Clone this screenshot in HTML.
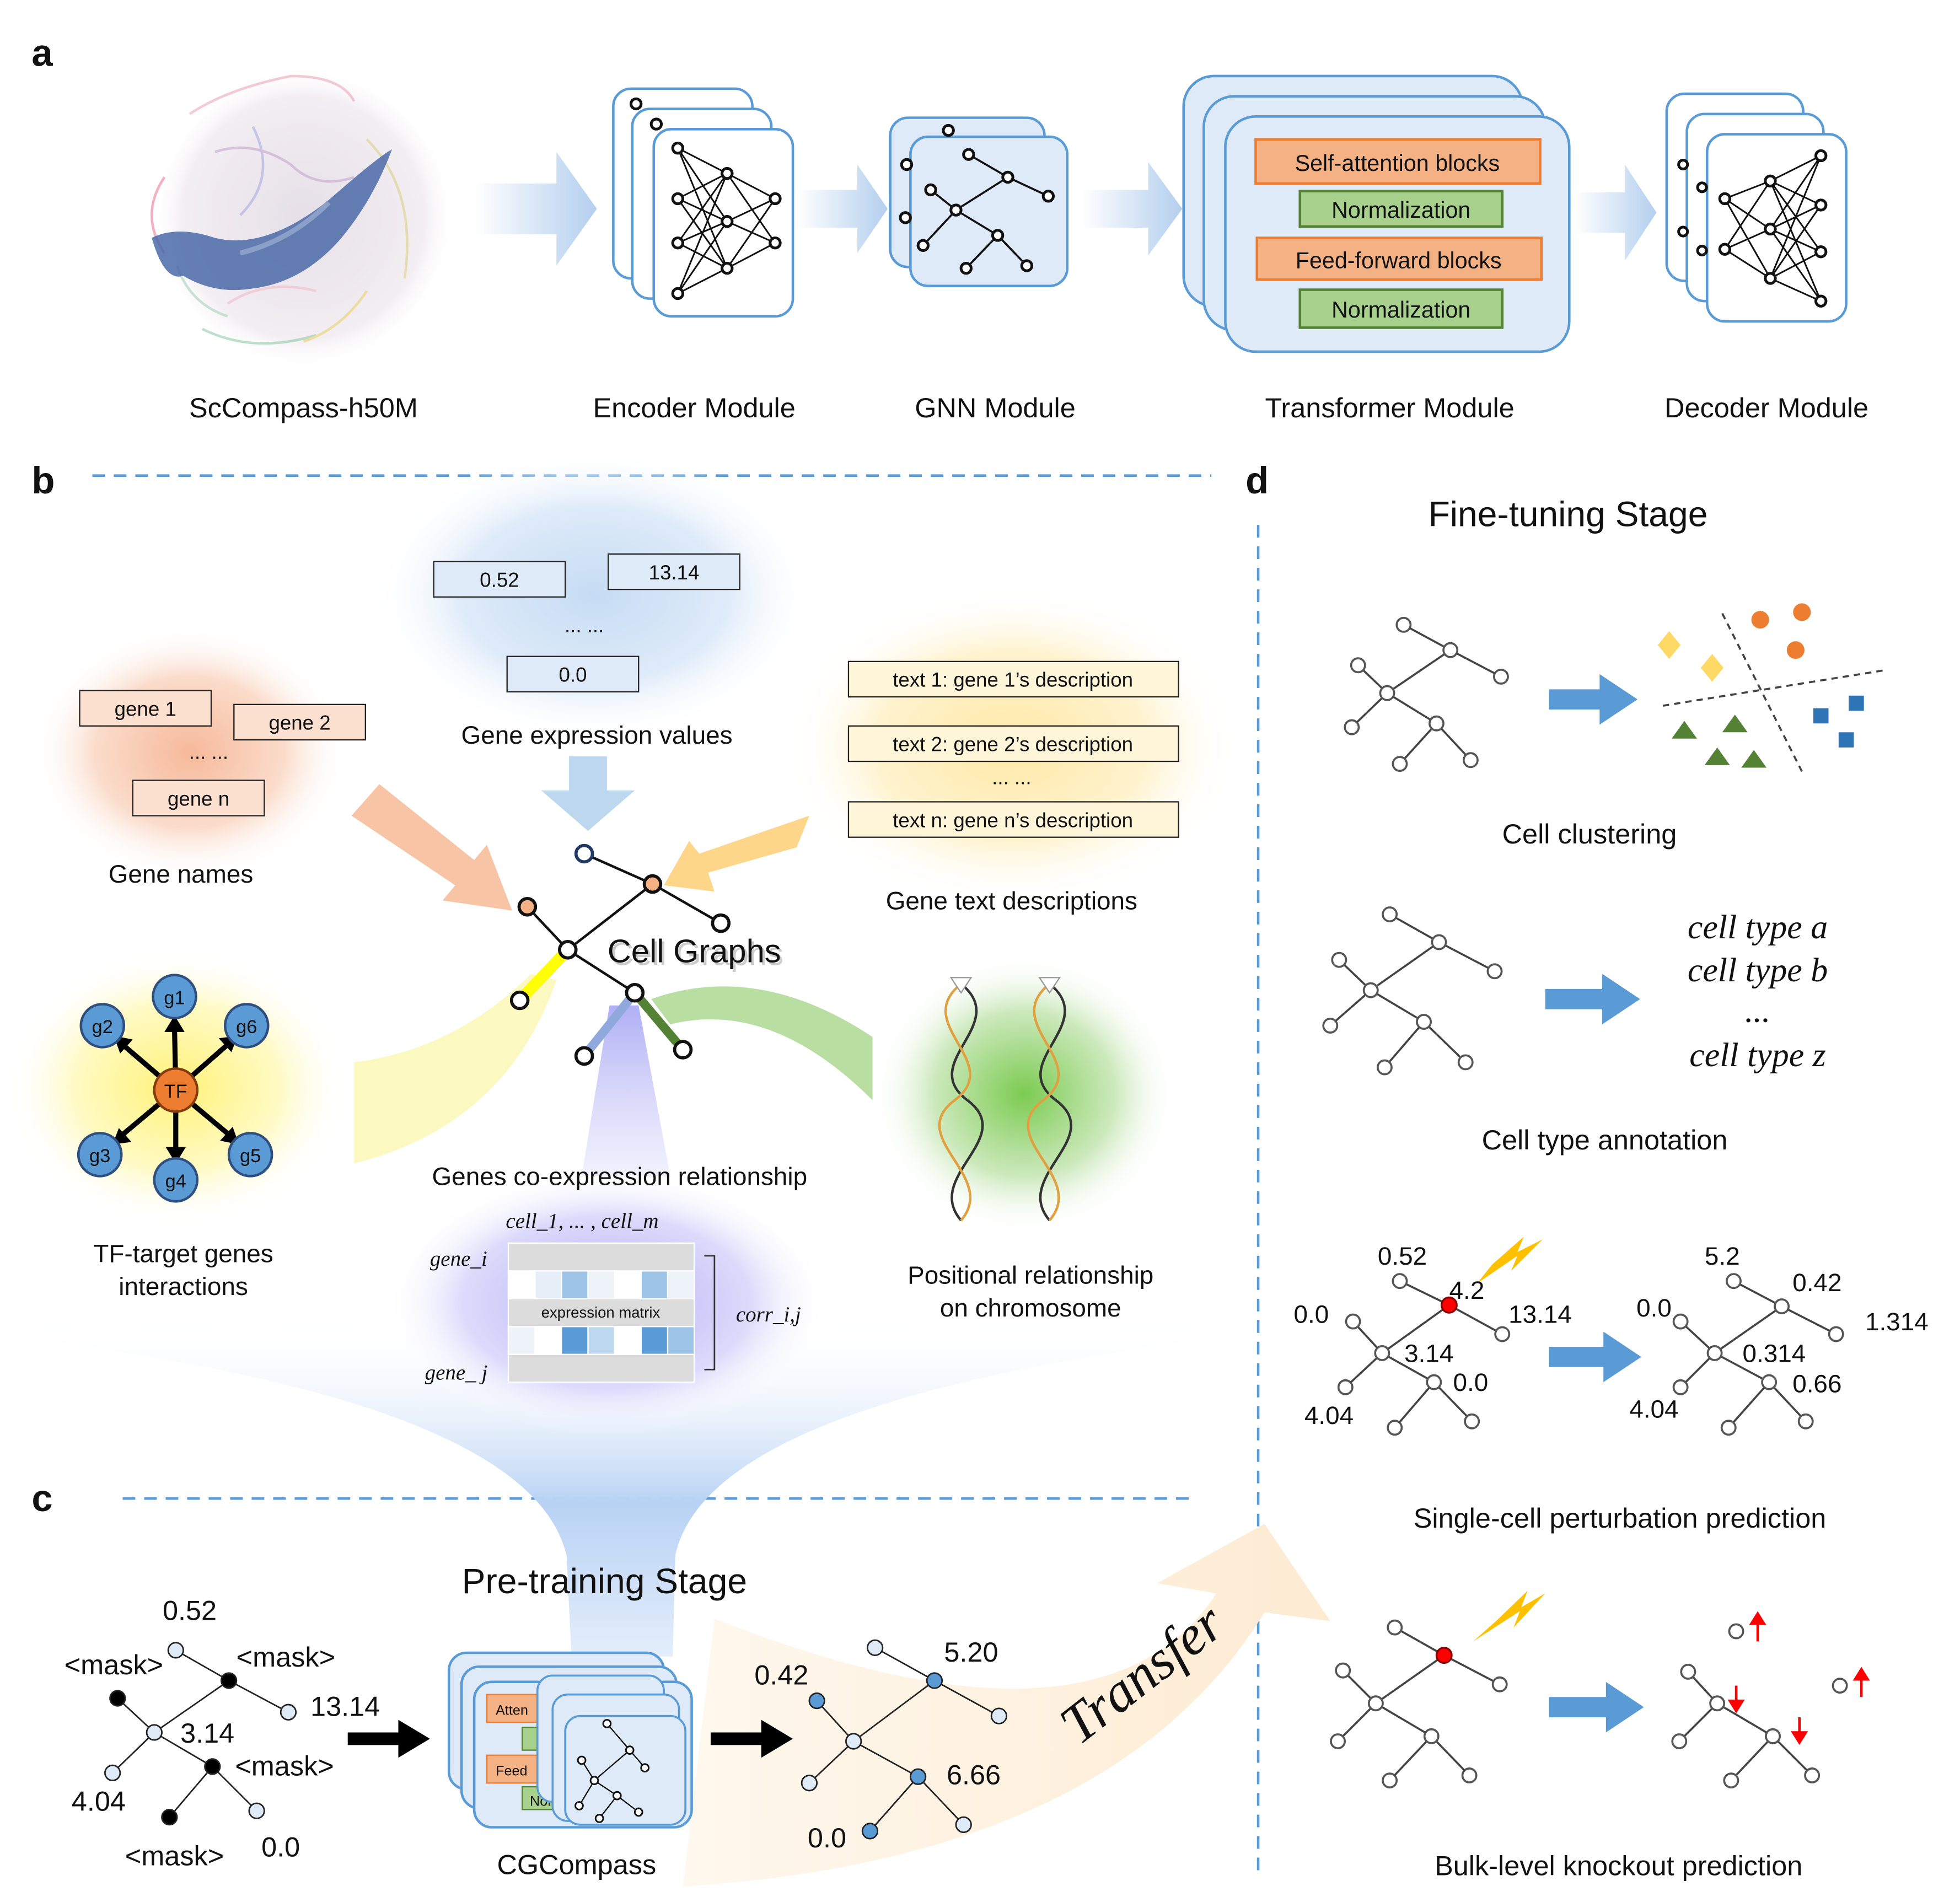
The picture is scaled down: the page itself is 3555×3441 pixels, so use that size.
<!DOCTYPE html>
<html><head><meta charset="utf-8"><style>
html,body{margin:0;padding:0;background:#fff}
svg{display:block}
text{font-family:"Liberation Sans","DejaVu Sans",sans-serif;fill:#111}
text.it{font-family:"Liberation Serif","DejaVu Serif",serif;font-style:italic}
.lab{font-size:22px;text-anchor:middle}
.box{font-size:16px;text-anchor:middle}
.n{fill:#fff;stroke:#555;stroke-width:1.6}
.e{stroke:#444;stroke-width:1.6;fill:none}
.k{stroke:#111;stroke-width:1.3;fill:none}
.kn{fill:#fff;stroke:#111;stroke-width:2.2}
</style></head><body>
<svg width="3555" height="3441" viewBox="0 0 1550 1500" xmlns="http://www.w3.org/2000/svg">
<defs>
<linearGradient id="ag" x1="0" x2="1" y1="0" y2="0"><stop offset="0" stop-color="#fff"/><stop offset="1" stop-color="#b4cfee"/></linearGradient>
<radialGradient id="rb"><stop offset="0" stop-color="#c6dcf4"/><stop offset="0.6" stop-color="#deebf9"/><stop offset="1" stop-color="#fff" stop-opacity="0"/></radialGradient>
<radialGradient id="ro"><stop offset="0" stop-color="#f6b99a"/><stop offset="0.6" stop-color="#fbdccb"/><stop offset="1" stop-color="#fff" stop-opacity="0"/></radialGradient>
<radialGradient id="ry"><stop offset="0" stop-color="#ffe9a6"/><stop offset="0.6" stop-color="#fff3cf"/><stop offset="1" stop-color="#fff" stop-opacity="0"/></radialGradient>
<radialGradient id="rty"><stop offset="0" stop-color="#fff27a"/><stop offset="0.6" stop-color="#fffac4"/><stop offset="1" stop-color="#fff" stop-opacity="0"/></radialGradient>
<radialGradient id="rg"><stop offset="0" stop-color="#7ccb52"/><stop offset="0.6" stop-color="#cde9bd"/><stop offset="1" stop-color="#fff" stop-opacity="0"/></radialGradient>
<radialGradient id="rp"><stop offset="0" stop-color="#b6b2f5"/><stop offset="0.65" stop-color="#dcdafb"/><stop offset="1" stop-color="#fff" stop-opacity="0"/></radialGradient>
<radialGradient id="rw"><stop offset="0" stop-color="#e6dfe8"/><stop offset="0.8" stop-color="#f3eef2"/><stop offset="1" stop-color="#fff" stop-opacity="0"/></radialGradient>
<linearGradient id="fg" x1="0" x2="0" y1="0" y2="1"><stop offset="0" stop-color="#fff" stop-opacity="0"/><stop offset="0.55" stop-color="#b8d2f4"/><stop offset="1" stop-color="#e4eefb"/></linearGradient>
<linearGradient id="tg" x1="0" x2="1" y1="0" y2="0"><stop offset="0" stop-color="#fff8ee"/><stop offset="1" stop-color="#fdebd2"/></linearGradient>
<linearGradient id="pg" x1="0" x2="0" y1="0" y2="1"><stop offset="0" stop-color="#8c8cf0"/><stop offset="1" stop-color="#d8d6fb" stop-opacity="0.5"/></linearGradient>
</defs>

<!-- ========== a ========== -->
<text x="25" y="52" style="font-size:30px;font-weight:bold">a</text>
<circle cx="240" cy="172" r="120" fill="url(#rw)"/>
<g opacity="0.55" fill="none" stroke-width="2">
<path d="M150 90 q30 -20 80 -30 q40 0 50 20" stroke="#e8a0b0"/>
<path d="M130 140 q-20 30 0 60" stroke="#e87090"/>
<path d="M290 110 q40 40 30 110" stroke="#d8d080"/>
<path d="M160 260 q40 20 90 5" stroke="#8ac8a0"/>
<path d="M200 100 q20 40 -10 70" stroke="#a0a8e0"/>
<path d="M290 230 q-20 30 -50 40" stroke="#e8d060"/>
<path d="M140 210 q10 30 40 40" stroke="#a0d0b0"/>
<path d="M170 120 q30 -10 60 10 q20 20 50 10" stroke="#c0a0c8"/>
<path d="M180 240 q30 -20 70 -10" stroke="#f0b8c8"/>
</g>
<path d="M120 188 q20 -10 50 0 q40 10 90 -30 q40 -35 50 -40 q-15 40 -40 70 q-30 35 -70 40 q-30 5 -55 -10 q-15 5 -25 -30z" fill="#4a6aa8" opacity="0.85"/>
<path d="M190 200 q40 -10 70 -40" stroke="#8aa0c8" stroke-width="4" fill="none"/>

<path d="M375 145 H440 V120 L472 165 L440 210 V185 H375Z" fill="url(#ag)"/>
<path d="M630 150 H678 V130 L702 165 L678 200 V180 H630Z" fill="url(#ag)"/>
<path d="M855 150 H908 V128 L935 165 L908 202 V180 H855Z" fill="url(#ag)"/>
<path d="M1245 152 H1285 V130 L1310 168 L1285 206 V184 H1245Z" fill="url(#ag)"/>

<!-- encoder -->
<g fill="#fff" stroke="#5b9bd5" stroke-width="2">
<rect x="485" y="70" width="110" height="150" rx="14"/>
<rect x="500" y="86" width="110" height="150" rx="14"/>
<rect x="517" y="102" width="110" height="148" rx="14"/>
</g>
<circle cx="503" cy="82" r="4" class="kn"/><circle cx="519" cy="98" r="4" class="kn"/>
<g class="k">
<path d="M536 117 L575 137 M536 117 L575 175 M536 117 L575 212 M536 157 L575 137 M536 157 L575 175 M536 157 L575 212 M536 192 L575 137 M536 192 L575 175 M536 192 L575 212 M536 232 L575 137 M536 232 L575 175 M536 232 L575 212 M575 137 L613 157 M575 137 L613 192 M575 175 L613 157 M575 175 L613 192 M575 212 L613 157 M575 212 L613 192"/>
</g>
<g class="kn"><circle cx="536" cy="117" r="4"/><circle cx="536" cy="157" r="4"/><circle cx="536" cy="192" r="4"/><circle cx="536" cy="232" r="4"/><circle cx="575" cy="137" r="4"/><circle cx="575" cy="175" r="4"/><circle cx="575" cy="212" r="4"/><circle cx="613" cy="157" r="4"/><circle cx="613" cy="192" r="4"/></g>

<!-- GNN -->
<g fill="#deeaf7" stroke="#5b9bd5" stroke-width="2">
<rect x="704" y="93" width="122" height="118" rx="14"/>
<rect x="720" y="108" width="124" height="118" rx="14"/>
</g>
<circle cx="750" cy="103" r="4" class="kn"/><circle cx="717" cy="130" r="4" class="kn"/><circle cx="716" cy="172" r="4" class="kn"/>
<path class="k" d="M766 122 L797 140 L829 155 M797 140 L756 166 L736 150 M756 166 L730 194 M756 166 L789 186 L764 212 M789 186 L812 210" style="stroke-width:1.6"/>
<g class="kn"><circle cx="766" cy="122" r="4"/><circle cx="797" cy="140" r="4"/><circle cx="829" cy="155" r="4"/><circle cx="736" cy="150" r="4"/><circle cx="756" cy="166" r="4"/><circle cx="730" cy="194" r="4"/><circle cx="789" cy="186" r="4"/><circle cx="764" cy="212" r="4"/><circle cx="812" cy="210" r="4"/></g>

<!-- Transformer -->
<g fill="#deeaf7" stroke="#5b9bd5" stroke-width="2">
<rect x="936" y="60" width="268" height="182" rx="24"/>
<rect x="952" y="76" width="270" height="185" rx="24"/>
<rect x="969" y="92" width="272" height="186" rx="24"/>
</g>
<rect x="993" y="110" width="225" height="35" fill="#f4b183" stroke="#ed7d31" stroke-width="2"/>
<text x="1105" y="135" style="font-size:18px;text-anchor:middle">Self-attention blocks</text>
<rect x="1028" y="151" width="160" height="28" fill="#a9d18e" stroke="#548235" stroke-width="2"/>
<text x="1108" y="172" style="font-size:18px;text-anchor:middle">Normalization</text>
<rect x="994" y="188" width="225" height="33" fill="#f4b183" stroke="#ed7d31" stroke-width="2"/>
<text x="1106" y="212" style="font-size:18px;text-anchor:middle">Feed-forward blocks</text>
<rect x="1028" y="229" width="160" height="30" fill="#a9d18e" stroke="#548235" stroke-width="2"/>
<text x="1108" y="251" style="font-size:18px;text-anchor:middle">Normalization</text>

<!-- Decoder -->
<g fill="#fff" stroke="#5b9bd5" stroke-width="2">
<rect x="1318" y="74" width="108" height="148" rx="14"/>
<rect x="1334" y="90" width="108" height="148" rx="14"/>
<rect x="1350" y="106" width="110" height="148" rx="14"/>
</g>
<circle cx="1331" cy="130" r="3.5" class="kn"/><circle cx="1331" cy="183" r="3.5" class="kn"/><circle cx="1346" cy="148" r="3.5" class="kn"/><circle cx="1346" cy="198" r="3.5" class="kn"/>
<g class="k">
<path d="M1364 157 L1400 143 M1364 157 L1400 181 M1364 157 L1400 220 M1364 197 L1400 143 M1364 197 L1400 181 M1364 197 L1400 220 M1400 143 L1440 123 M1400 143 L1440 162 M1400 143 L1440 199 M1400 143 L1440 238 M1400 181 L1440 123 M1400 181 L1440 162 M1400 181 L1440 199 M1400 181 L1440 238 M1400 220 L1440 123 M1400 220 L1440 162 M1400 220 L1440 199 M1400 220 L1440 238"/>
</g>
<g class="kn"><circle cx="1364" cy="157" r="4"/><circle cx="1364" cy="197" r="4"/><circle cx="1400" cy="143" r="4"/><circle cx="1400" cy="181" r="4"/><circle cx="1400" cy="220" r="4"/><circle cx="1440" cy="123" r="4"/><circle cx="1440" cy="162" r="4"/><circle cx="1440" cy="199" r="4"/><circle cx="1440" cy="238" r="4"/></g>

<text class="lab" x="240" y="330">ScCompass-h50M</text>
<text class="lab" x="549" y="330">Encoder Module</text>
<text class="lab" x="787" y="330">GNN Module</text>
<text class="lab" x="1099" y="330">Transformer Module</text>
<text class="lab" x="1397" y="330">Decoder Module</text>

<!-- dividers -->
<g stroke="#5b9bd5" stroke-width="2" stroke-dasharray="10 7" fill="none">
<path d="M73 376 H958"/><path d="M97 1185 H940"/><path d="M995 415 V1480"/>
</g>
<text x="25" y="390" style="font-size:30px;font-weight:bold">b</text>
<text x="985" y="390" style="font-size:30px;font-weight:bold">d</text>
<text x="25" y="1195" style="font-size:30px;font-weight:bold">c</text>

<!-- ========== b ========== -->
<path d="M30 1060 Q420 1110 448 1230 L452 1310 L532 1310 L534 1230 Q560 1110 950 1060 L950 1040 L30 1040Z" fill="url(#fg)"/>
<ellipse cx="470" cy="470" rx="175" ry="115" fill="url(#rb)"/>
<ellipse cx="150" cy="595" rx="125" ry="100" fill="url(#ro)"/>
<ellipse cx="800" cy="590" rx="180" ry="125" fill="url(#ry)"/>
<ellipse cx="140" cy="860" rx="135" ry="110" fill="url(#rty)"/>
<ellipse cx="810" cy="865" rx="120" ry="110" fill="url(#rg)"/>
<ellipse cx="480" cy="1030" rx="175" ry="105" fill="url(#rp)"/>

<g fill="#deeaf7" stroke="#222" stroke-width="1">
<rect x="343" y="444" width="104" height="28"/><rect x="481" y="438" width="104" height="28"/><rect x="401" y="519" width="104" height="28"/>
</g>
<text class="box" x="395" y="464">0.52</text><text class="box" x="533" y="458">13.14</text>
<text class="box" x="462" y="500">... ...</text><text class="box" x="453" y="539">0.0</text>
<text class="lab" x="472" y="588" style="font-size:20px">Gene expression values</text>
<path d="M450 598 H480 V625 H502 L465 657 L428 625 H450Z" fill="#bdd7ee"/>

<g fill="#fbe0d0" stroke="#222" stroke-width="1">
<rect x="63" y="546" width="104" height="28"/><rect x="185" y="557" width="104" height="28"/><rect x="105" y="617" width="104" height="28"/>
</g>
<text class="box" x="115" y="566">gene 1</text><text class="box" x="237" y="577">gene 2</text>
<text class="box" x="165" y="600">... ...</text><text class="box" x="157" y="637">gene n</text>
<text class="lab" x="143" y="698" style="font-size:20px">Gene names</text>

<g fill="#fff6da" stroke="#222" stroke-width="1">
<rect x="671" y="523" width="261" height="28"/><rect x="671" y="574" width="261" height="28"/><rect x="671" y="634" width="261" height="28"/>
</g>
<text class="box" x="801" y="543">text 1: gene 1’s description</text>
<text class="box" x="801" y="594">text 2: gene 2’s description</text>
<text class="box" x="800" y="620">... ...</text>
<text class="box" x="801" y="654">text n: gene n’s description</text>
<text class="lab" x="800" y="719" style="font-size:20px">Gene text descriptions</text>

<path d="M278 645 L300 620 L375 680 L385 668 L405 720 L350 712 L360 700Z" fill="#f8c4a6"/>
<path d="M640 645 L630 670 L560 690 L565 705 L525 700 L545 665 L553 675Z" fill="#fdd68a"/>

<!-- flows -->
<path d="M280 840 Q360 830 420 770 L440 775 Q400 890 280 920Z" fill="#fbf7b0" opacity="0.8"/>
<path d="M482 795 L505 795 L530 930 L460 930Z" fill="url(#pg)" opacity="0.7"/>
<path d="M515 790 Q600 760 690 820 L690 870 Q610 790 530 810Z" fill="#a8d68a" opacity="0.8"/>

<!-- cell graph -->
<g stroke="#111" stroke-width="2" fill="none">
<path d="M462 675 L516 699 L570 730 M516 699 L449 751 L417 717 M449 751 L502 785"/>
</g>
<path d="M449 751 L411 791" stroke="#ffff00" stroke-width="9"/>
<path d="M502 785 L462 835" stroke="#8fa9dc" stroke-width="7"/>
<path d="M502 785 L540 830" stroke="#548235" stroke-width="7"/>
<g stroke="#111" stroke-width="2.5">
<circle cx="462" cy="675" r="6.5" fill="#fff" stroke="#1f3864"/>
<circle cx="516" cy="699" r="6.5" fill="#f4b183"/>
<circle cx="570" cy="730" r="6.5" fill="#fff"/>
<circle cx="417" cy="717" r="6.5" fill="#f4b183"/>
<circle cx="449" cy="751" r="6.5" fill="#fff"/>
<circle cx="411" cy="791" r="6.5" fill="#fff"/>
<circle cx="502" cy="785" r="6.5" fill="#fff"/>
<circle cx="462" cy="835" r="6.5" fill="#fff"/>
<circle cx="540" cy="830" r="6.5" fill="#fff"/>
</g>
<text x="551" y="763" style="font-size:26px;text-anchor:middle;fill:#ccc">Cell Graphs</text>
<text x="549" y="761" style="font-size:26px;text-anchor:middle">Cell Graphs</text>

<!-- TF -->
<g stroke="#000" stroke-width="4">
<path d="M139 862 L138 812 M139 862 L180 826 M139 862 L182 898 M139 862 L139 912 M139 862 L96 898 M139 862 L97 826"/>
</g>
<g fill="#000">
<path d="M138 803 l-8 13 h16z"/><path d="M188 819 l-15 2 l10 11z"/><path d="M189 905 l-5 -14 l-10 11z"/>
<path d="M139 920 l-8 -13 h16z"/><path d="M89 905 l15 -2 l-10 -11z"/><path d="M90 819 l5 14 l10 -11z"/>
</g>
<g fill="#5b9bd5" stroke="#2f4f7f" stroke-width="2">
<circle cx="138" cy="788" r="17"/><circle cx="195" cy="811" r="17"/><circle cx="198" cy="913" r="17"/>
<circle cx="139" cy="933" r="17"/><circle cx="79" cy="913" r="17"/><circle cx="81" cy="811" r="17"/>
</g>
<circle cx="139" cy="862" r="17" fill="#ed7d31" stroke="#843c0c" stroke-width="2"/>
<g style="font-size:15px;text-anchor:middle">
<text x="138" y="794">g1</text><text x="195" y="817">g6</text><text x="198" y="919">g5</text>
<text x="139" y="939">g4</text><text x="79" y="919">g3</text><text x="81" y="817">g2</text><text x="139" y="868">TF</text>
</g>
<text class="lab" x="145" y="998" style="font-size:20px">TF-target genes</text>
<text class="lab" x="145" y="1024" style="font-size:20px">interactions</text>

<!-- DNA -->
<g fill="none" stroke-width="2">
<path d="M760 778 C800 810 725 840 765 870 C805 900 730 930 760 965" stroke="#333"/>
<path d="M760 778 C720 810 795 840 755 870 C715 900 790 930 760 965" stroke="#e0a040"/>
<path d="M830 778 C870 810 795 840 835 870 C875 900 800 930 830 965" stroke="#333"/>
<path d="M830 778 C790 810 865 840 825 870 C785 900 860 930 830 965" stroke="#e0a040"/>
</g>
<path d="M752 773 h16 l-8 12z M822 773 h16 l-8 12z" fill="#fff" stroke="#999"/>
<text class="lab" x="815" y="1015" style="font-size:20px">Positional relationship</text>
<text class="lab" x="815" y="1041" style="font-size:20px">on chromosome</text>

<text class="lab" x="490" y="937" style="font-size:20px">Genes co-expression relationship</text>
<g style="font-size:17px">
<text class="it" x="400" y="971" style="font-size:17px">cell_1,    ...   , cell_m</text>
<text class="it" x="340" y="1001" style="font-size:17px">gene_i</text><text class="it" x="336" y="1091" style="font-size:17px">gene_ j</text><text class="it" x="582" y="1045" style="font-size:17px">corr_i,j</text>
</g>
<g stroke="#fff" stroke-width="1">
<rect x="402" y="983" width="147" height="110" fill="#dcdcdc"/>
<rect x="423" y="1005" width="21" height="22" fill="#e6eef8"/><rect x="444" y="1005" width="21" height="22" fill="#9dc3e6"/>
<rect x="486" y="1005" width="21" height="22" fill="#fff"/><rect x="507" y="1005" width="21" height="22" fill="#9dc3e6"/><rect x="402" y="1005" width="21" height="22" fill="#fff"/><rect x="465" y="1005" width="21" height="22" fill="#eef3fa"/><rect x="528" y="1005" width="21" height="22" fill="#eef3fa"/>
<rect x="402" y="1049" width="21" height="22" fill="#eef3fa"/><rect x="423" y="1049" width="21" height="22" fill="#fff"/><rect x="444" y="1049" width="21" height="22" fill="#5b9bd5"/><rect x="465" y="1049" width="21" height="22" fill="#bdd7ee"/><rect x="486" y="1049" width="21" height="22" fill="#fff"/><rect x="507" y="1049" width="21" height="22" fill="#5b9bd5"/><rect x="528" y="1049" width="21" height="22" fill="#9dc3e6"/>
</g>
<text x="475" y="1042" style="font-size:12px;text-anchor:middle">expression matrix</text>
<path d="M557 993 H565 V1083 H557" stroke="#333" fill="none" stroke-width="1.2"/>

<!-- ========== c ========== -->
<path d="M540 1492 Q880 1470 1000 1275 L1052 1282 L1000 1205 L915 1252 L962 1260 Q870 1400 565 1280 Z" fill="url(#tg)"/>
<text class="it" x="0" y="0" transform="translate(912 1335) rotate(-38)" style="font-size:44px;text-anchor:middle">Transfer</text>
<text class="lab" x="478" y="1260" style="font-size:28px">Pre-training Stage</text>

<path class="e" d="M139 1305 L181 1329 L228 1354 M181 1329 L122 1370 L93 1343 M122 1370 L89 1402 M122 1370 L168 1397 L134 1437 M168 1397 L203 1432" style="stroke-width:1.2;stroke:#222"/>
<g stroke="#222" stroke-width="1.2">
<circle cx="139" cy="1305" r="6" fill="#deebf7"/><circle cx="181" cy="1329" r="6" fill="#000"/><circle cx="228" cy="1354" r="6" fill="#deebf7"/>
<circle cx="93" cy="1343" r="6" fill="#000"/><circle cx="122" cy="1370" r="6" fill="#deebf7"/><circle cx="168" cy="1397" r="6" fill="#000"/>
<circle cx="203" cy="1432" r="6" fill="#deebf7"/><circle cx="89" cy="1402" r="6" fill="#deebf7"/><circle cx="134" cy="1437" r="6" fill="#000"/>
</g>
<g class="lab">
<text x="150" y="1281">0.52</text><text x="90" y="1324">&lt;mask&gt;</text><text x="226" y="1318">&lt;mask&gt;</text>
<text x="273" y="1357">13.14</text><text x="164" y="1378">3.14</text><text x="225" y="1404">&lt;mask&gt;</text>
<text x="78" y="1432">4.04</text><text x="138" y="1475">&lt;mask&gt;</text><text x="222" y="1468">0.0</text>
</g>
<path d="M275 1370 H315 V1360 L340 1375 L315 1390 V1380 H275Z" fill="#000"/>
<path d="M562 1370 H602 V1360 L627 1375 L602 1390 V1380 H562Z" fill="#000"/>

<!-- CGCompass -->
<g fill="#deeaf7" stroke="#5b9bd5" stroke-width="2">
<rect x="355" y="1307" width="170" height="108" rx="14"/>
<rect x="365" y="1318" width="170" height="112" rx="14"/>
<rect x="375" y="1330" width="172" height="115" rx="14"/>
</g>
<rect x="385" y="1340" width="140" height="22" fill="#f4b183" stroke="#ed7d31"/>
<rect x="413" y="1366" width="40" height="18" fill="#a9d18e" stroke="#548235"/>
<rect x="385" y="1388" width="60" height="22" fill="#f4b183" stroke="#ed7d31"/>
<rect x="413" y="1413" width="40" height="18" fill="#a9d18e" stroke="#548235"/>
<text x="392" y="1356" style="font-size:11px">Atten</text><text x="392" y="1404" style="font-size:11px">Feed</text><text x="419" y="1428" style="font-size:11px">Nor</text>
<g fill="#deeaf7" stroke="#5b9bd5" stroke-width="1.6">
<rect x="425" y="1325" width="100" height="100" rx="12"/>
<rect x="437" y="1340" width="100" height="100" rx="12"/>
<rect x="447" y="1357" width="95" height="86" rx="12"/>
</g>
<path d="M480 1363 L498 1384 L510 1398 M498 1384 L470 1408 L460 1392 M470 1408 L458 1428 M470 1408 L488 1420 L474 1438 M488 1420 L505 1433" stroke="#111" stroke-width="1" fill="none"/>
<g fill="#fff" stroke="#111" stroke-width="1.3"><circle cx="480" cy="1363" r="3"/><circle cx="498" cy="1384" r="3"/><circle cx="510" cy="1398" r="3"/><circle cx="460" cy="1392" r="3"/><circle cx="470" cy="1408" r="3"/><circle cx="458" cy="1428" r="3"/><circle cx="488" cy="1420" r="3"/><circle cx="474" cy="1438" r="3"/><circle cx="505" cy="1433" r="3"/></g>
<text class="lab" x="456" y="1482">CGCompass</text>

<path d="M692 1303 L739 1329 L790 1357 M739 1329 L675 1377 L646 1345 M675 1377 L640 1410 M675 1377 L726 1405 L688 1448 M726 1405 L762 1443" stroke="#222" stroke-width="1.2" fill="none"/>
<g stroke="#222" stroke-width="1.2">
<circle cx="692" cy="1303" r="6" fill="#deebf7"/><circle cx="739" cy="1329" r="6" fill="#5b9bd5"/><circle cx="790" cy="1357" r="6" fill="#deebf7"/>
<circle cx="646" cy="1345" r="6" fill="#5b9bd5"/><circle cx="675" cy="1377" r="6" fill="#deebf7"/><circle cx="726" cy="1405" r="6" fill="#5b9bd5"/>
<circle cx="762" cy="1443" r="6" fill="#deebf7"/><circle cx="640" cy="1410" r="6" fill="#deebf7"/><circle cx="688" cy="1448" r="6" fill="#5b9bd5"/>
</g>
<g class="lab"><text x="768" y="1314">5.20</text><text x="618" y="1332">0.42</text><text x="770" y="1411">6.66</text><text x="654" y="1461">0.0</text></g>

<!-- ========== d ========== -->
<text class="lab" x="1240" y="416" style="font-size:28px">Fine-tuning Stage</text>

<!-- clustering -->
<path class="e" d="M1110 494 L1147 514 L1187 535 M1147 514 L1097 548 L1074 526 M1097 548 L1069 575 M1097 548 L1136 572 L1107 604 M1136 572 L1163 601"/>
<g class="n"><circle cx="1110" cy="494" r="5.5"/><circle cx="1147" cy="514" r="5.5"/><circle cx="1187" cy="535" r="5.5"/><circle cx="1074" cy="526" r="5.5"/><circle cx="1097" cy="548" r="5.5"/><circle cx="1069" cy="575" r="5.5"/><circle cx="1136" cy="572" r="5.5"/><circle cx="1107" cy="604" r="5.5"/><circle cx="1163" cy="601" r="5.5"/></g>
<path d="M1225 545 H1265 V533 L1295 553 L1265 573 V561 H1225Z" fill="#5b9bd5"/>
<path d="M1315 558 L1490 530 M1362 485 L1425 610" stroke="#444" stroke-width="1.6" stroke-dasharray="5 4"/>
<path d="M1320 499 l9 11 l-9 11 l-9 -11z M1354 517 l9 11 l-9 11 l-9 -11z" fill="#ffd966"/>
<g fill="#ed7d31"><circle cx="1392" cy="490" r="7"/><circle cx="1425" cy="484" r="7"/><circle cx="1420" cy="514" r="7"/></g>
<g fill="#2e75b6"><rect x="1434" y="560" width="12" height="12"/><rect x="1462" y="550" width="12" height="12"/><rect x="1454" y="579" width="12" height="12"/></g>
<g fill="#548235"><path d="M1332 570 l10 14 h-20z M1372 565 l10 14 h-20z M1358 591 l10 14 h-20z M1387 593 l10 14 h-20z"/></g>
<text class="lab" x="1257" y="667">Cell clustering</text>

<!-- annotation -->
<path class="e" d="M1099 723 L1138 745 L1182 768 M1138 745 L1084 783 L1059 759 M1084 783 L1052 811 M1084 783 L1126 808 L1095 844 M1126 808 L1159 840"/>
<g class="n"><circle cx="1099" cy="723" r="5.5"/><circle cx="1138" cy="745" r="5.5"/><circle cx="1182" cy="768" r="5.5"/><circle cx="1059" cy="759" r="5.5"/><circle cx="1084" cy="783" r="5.5"/><circle cx="1052" cy="811" r="5.5"/><circle cx="1126" cy="808" r="5.5"/><circle cx="1095" cy="844" r="5.5"/><circle cx="1159" cy="840" r="5.5"/></g>
<path d="M1222 782 H1267 V770 L1297 790 L1267 810 V798 H1222Z" fill="#5b9bd5"/>
<text class="it" x="1390" y="742" style="font-size:27px;text-anchor:middle">cell type a</text>
<text class="it" x="1390" y="776" style="font-size:27px;text-anchor:middle">cell type b</text>
<text class="it" x="1390" y="808" style="font-size:27px;text-anchor:middle">...</text>
<text class="it" x="1390" y="843" style="font-size:27px;text-anchor:middle">cell type z</text>
<text class="lab" x="1269" y="909">Cell type annotation</text>

<!-- perturbation -->
<path d="M1180 1000 L1205 978 L1200 990 L1220 980 L1195 1005 L1200 993 L1168 1015Z" fill="#ffc000"/>
<path class="e" d="M1107 1013 L1146 1032 L1188 1055 M1146 1032 L1093 1070 L1070 1045 M1093 1070 L1064 1097 M1093 1070 L1134 1093 L1103 1129 M1134 1093 L1164 1124"/>
<g class="n"><circle cx="1107" cy="1013" r="5.5"/><circle cx="1188" cy="1055" r="5.5"/><circle cx="1070" cy="1045" r="5.5"/><circle cx="1093" cy="1070" r="5.5"/><circle cx="1064" cy="1097" r="5.5"/><circle cx="1134" cy="1093" r="5.5"/><circle cx="1103" cy="1129" r="5.5"/><circle cx="1164" cy="1124" r="5.5"/></g>
<circle cx="1146" cy="1032" r="6" fill="#ff0000" stroke="#800" stroke-width="1.5"/>
<g class="lab" style="font-size:20px"><text x="1109" y="1000">0.52</text><text x="1160" y="1027">4.2</text><text x="1218" y="1046">13.14</text><text x="1037" y="1046">0.0</text><text x="1130" y="1077">3.14</text><text x="1163" y="1100">0.0</text><text x="1051" y="1126">4.04</text></g>
<path d="M1225 1065 H1268 V1053 L1298 1073 L1268 1093 V1081 H1225Z" fill="#5b9bd5"/>
<path class="e" d="M1371 1013 L1409 1033 L1452 1055 M1409 1033 L1356 1070 L1329 1045 M1356 1070 L1329 1097 M1356 1070 L1399 1093 L1367 1129 M1399 1093 L1428 1124"/>
<g class="n"><circle cx="1371" cy="1013" r="5.5"/><circle cx="1409" cy="1033" r="5.5"/><circle cx="1452" cy="1055" r="5.5"/><circle cx="1329" cy="1045" r="5.5"/><circle cx="1356" cy="1070" r="5.5"/><circle cx="1329" cy="1097" r="5.5"/><circle cx="1399" cy="1093" r="5.5"/><circle cx="1367" cy="1129" r="5.5"/><circle cx="1428" cy="1124" r="5.5"/></g>
<g class="lab" style="font-size:20px"><text x="1362" y="1000">5.2</text><text x="1437" y="1021">0.42</text><text x="1500" y="1052">1.314</text><text x="1308" y="1041">0.0</text><text x="1403" y="1077">0.314</text><text x="1437" y="1101">0.66</text><text x="1308" y="1121">4.04</text></g>
<text class="lab" x="1281" y="1208">Single-cell perturbation prediction</text>

<!-- knockout -->
<path d="M1183 1282 L1208 1258 L1203 1271 L1222 1260 L1197 1287 L1202 1274 L1165 1298Z" fill="#ffc000"/>
<path class="e" d="M1103 1287 L1142 1309 L1186 1332 M1142 1309 L1088 1347 L1062 1321 M1088 1347 L1058 1377 M1088 1347 L1132 1373 L1099 1408 M1132 1373 L1162 1404"/>
<g class="n"><circle cx="1103" cy="1287" r="5.5"/><circle cx="1186" cy="1332" r="5.5"/><circle cx="1062" cy="1321" r="5.5"/><circle cx="1088" cy="1347" r="5.5"/><circle cx="1058" cy="1377" r="5.5"/><circle cx="1132" cy="1373" r="5.5"/><circle cx="1099" cy="1408" r="5.5"/><circle cx="1162" cy="1404" r="5.5"/></g>
<circle cx="1142" cy="1309" r="6" fill="#ff0000" stroke="#800" stroke-width="1.5"/>
<path d="M1225 1342 H1270 V1330 L1300 1350 L1270 1370 V1358 H1225Z" fill="#5b9bd5"/>
<path class="e" d="M1358 1347 L1335 1322 M1358 1347 L1328 1377 M1358 1347 L1402 1373 L1369 1408 M1402 1373 L1433 1404"/>
<g class="n"><circle cx="1373" cy="1290" r="5.5"/><circle cx="1455" cy="1333" r="5.5"/><circle cx="1335" cy="1322" r="5.5"/><circle cx="1358" cy="1347" r="5.5"/><circle cx="1328" cy="1377" r="5.5"/><circle cx="1402" cy="1373" r="5.5"/><circle cx="1369" cy="1408" r="5.5"/><circle cx="1433" cy="1404" r="5.5"/></g>
<g stroke="#ff0000" stroke-width="2" fill="#ff0000">
<path d="M1390 1298 V1282"/><path d="M1385 1284 l5 -8 l5 8z"/>
<path d="M1472 1342 V1326"/><path d="M1467 1328 l5 -8 l5 8z"/>
<path d="M1373 1333 V1347"/><path d="M1368 1345 l5 8 l5 -8z"/>
<path d="M1423 1358 V1372"/><path d="M1418 1370 l5 8 l5 -8z"/>
</g>
<text class="lab" x="1280" y="1483">Bulk-level knockout prediction</text>
</svg>
</body></html>
